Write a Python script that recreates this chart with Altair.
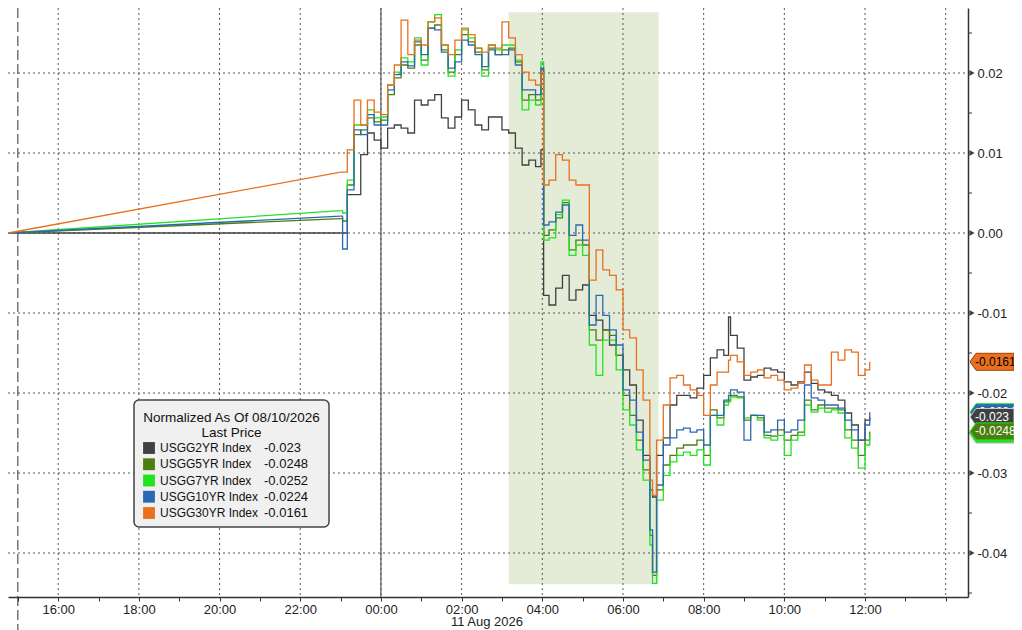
import altair as alt
import pandas as pd

# ---------------- data ----------------
TIMES = [
    "2026-08-10T14:40", "2026-08-10T14:46", "2026-08-10T23:00", "2026-08-10T23:03",
    "2026-08-10T23:10", "2026-08-10T23:20", "2026-08-10T23:30", "2026-08-10T23:40",
    "2026-08-10T23:50", "2026-08-11T00:00",
    "2026-08-11T00:10", "2026-08-11T00:20", "2026-08-11T00:30", "2026-08-11T00:40",
    "2026-08-11T00:50", "2026-08-11T01:00", "2026-08-11T01:10", "2026-08-11T01:20",
    "2026-08-11T01:30", "2026-08-11T01:40",
    "2026-08-11T01:50", "2026-08-11T02:00", "2026-08-11T02:10", "2026-08-11T02:20",
    "2026-08-11T02:30", "2026-08-11T02:40", "2026-08-11T02:50", "2026-08-11T03:00",
    "2026-08-11T03:10", "2026-08-11T03:20",
    "2026-08-11T03:30", "2026-08-11T03:40", "2026-08-11T03:50", "2026-08-11T03:58",
    "2026-08-11T04:02", "2026-08-11T04:10", "2026-08-11T04:20", "2026-08-11T04:30",
    "2026-08-11T04:40", "2026-08-11T04:50",
    "2026-08-11T05:00", "2026-08-11T05:10", "2026-08-11T05:20", "2026-08-11T05:30",
    "2026-08-11T05:40", "2026-08-11T05:50", "2026-08-11T06:00", "2026-08-11T06:10",
    "2026-08-11T06:20", "2026-08-11T06:30",
    "2026-08-11T06:40", "2026-08-11T06:44", "2026-08-11T06:50", "2026-08-11T07:00",
    "2026-08-11T07:10", "2026-08-11T07:20", "2026-08-11T07:30", "2026-08-11T07:40",
    "2026-08-11T07:50", "2026-08-11T08:00",
    "2026-08-11T08:10", "2026-08-11T08:20", "2026-08-11T08:30", "2026-08-11T08:37",
    "2026-08-11T08:40", "2026-08-11T08:50", "2026-08-11T09:00", "2026-08-11T09:10",
    "2026-08-11T09:20", "2026-08-11T09:30",
    "2026-08-11T09:40", "2026-08-11T09:50", "2026-08-11T10:00", "2026-08-11T10:10",
    "2026-08-11T10:20", "2026-08-11T10:30", "2026-08-11T10:40", "2026-08-11T10:50",
    "2026-08-11T11:00", "2026-08-11T11:10",
    "2026-08-11T11:20", "2026-08-11T11:30", "2026-08-11T11:40", "2026-08-11T11:50",
    "2026-08-11T12:00", "2026-08-11T12:07",
]

USGG2YR = [
    0, 0, 0, 0, 0.0048, 0.0048, 0.0098, 0.0125, 0.0116, 0.0106,
    0.0131, 0.0135, 0.0131, 0.0125, 0.0166, 0.0160, 0.0166, 0.0173, 0.0144, 0.0131,
    0.0145, 0.0166, 0.0154, 0.0135, 0.0129, 0.0145, 0.0145, 0.0129, 0.0125, 0.0106,
    0.0085, 0.0091, 0.0083, 0.0104, -0.0078, -0.0090, -0.0069, -0.0053, -0.0084, -0.0071,
    -0.0065, -0.0103, -0.0109, -0.0121, -0.0140, -0.0153, -0.0171, -0.0190, -0.0234, -0.0278,
    -0.0321, -0.0330, -0.0278, -0.0256, -0.0215, -0.0203, -0.0203, -0.0206, -0.0194, -0.0178,
    -0.0156, -0.0146, -0.0153, -0.0105, -0.0128, -0.0144, -0.0184, -0.0180, -0.0178, -0.0169,
    -0.0171, -0.0174, -0.0186, -0.0190, -0.0186, -0.0174, -0.0188, -0.0196, -0.0199, -0.0203,
    -0.0209, -0.0225, -0.0240, -0.0259, -0.0234, -0.023,
]
USGG5YR = [
    0, 0, 0.0018, 0.0015, 0.0060, 0.0123, 0.0129, 0.0144, 0.0139, 0.0141,
    0.0173, 0.0194, 0.0210, 0.0206, 0.0235, 0.0216, 0.0256, 0.0260, 0.0229, 0.0201,
    0.0223, 0.0248, 0.0239, 0.0226, 0.0204, 0.0231, 0.0223, 0.0229, 0.0231, 0.0214,
    0.0166, 0.0173, 0.0166, 0.0204, -0.0003, 0.0004, 0.0019, 0.0038, -0.0021, -0.0009,
    -0.0015, -0.0121, -0.0134, -0.0121, -0.0128, -0.0153, -0.0203, -0.0228, -0.0259, -0.0296,
    -0.0378, -0.0428, -0.0321, -0.0290, -0.0278, -0.0269, -0.0265, -0.0265, -0.0259, -0.0278,
    -0.0221, -0.0231, -0.0211, -0.0209, -0.0203, -0.0205, -0.0234, -0.0228, -0.0231, -0.0253,
    -0.0254, -0.0246, -0.0259, -0.0253, -0.0249, -0.0209, -0.0221, -0.0215, -0.0219, -0.0219,
    -0.0221, -0.0246, -0.0259, -0.0278, -0.0259, -0.0248,
]
USGG7YR = [
    0, 0, 0.0028, 0.0025, 0.0066, 0.0135, 0.0135, 0.0154, 0.0144, 0.0145,
    0.0185, 0.0201, 0.0219, 0.0214, 0.0244, 0.0210, 0.0264, 0.0273, 0.0235, 0.0196,
    0.0229, 0.0254, 0.0244, 0.0231, 0.0196, 0.0235, 0.0229, 0.0235, 0.0235, 0.0216,
    0.0154, 0.0166, 0.0160, 0.0214, -0.0009, -0.0006, 0.0023, 0.0041, -0.0028, -0.0015,
    -0.0028, -0.0140, -0.0178, -0.0134, -0.0134, -0.0171, -0.0221, -0.0240, -0.0271, -0.0309,
    -0.0390, -0.0438, -0.0334, -0.0303, -0.0286, -0.0278, -0.0274, -0.0278, -0.0271, -0.0290,
    -0.0228, -0.0240, -0.0215, -0.0211, -0.0205, -0.0206, -0.0231, -0.0228, -0.0234, -0.0256,
    -0.0259, -0.0253, -0.0278, -0.0259, -0.0253, -0.0215, -0.0224, -0.0219, -0.0224, -0.0221,
    -0.0225, -0.0256, -0.0269, -0.0294, -0.0265, -0.0252,
]
USGG10YR = [
    0, 0, 0.0021, -0.0020, 0.0054, 0.0129, 0.0123, 0.0148, 0.0135, 0.0135,
    0.0179, 0.0198, 0.0214, 0.0209, 0.0239, 0.0223, 0.0256, 0.0254, 0.0226, 0.0206,
    0.0214, 0.0241, 0.0235, 0.0223, 0.0208, 0.0229, 0.0223, 0.0223, 0.0229, 0.0210,
    0.0179, 0.0179, 0.0173, 0.0206, 0.0010, 0.0014, 0.0026, 0.0035, -0.0003, 0.0010,
    -0.0009, -0.0115, -0.0078, -0.0103, -0.0121, -0.0140, -0.0196, -0.0209, -0.0249, -0.0284,
    -0.0371, -0.0424, -0.0315, -0.0265, -0.0256, -0.0246, -0.0244, -0.0249, -0.0246, -0.0265,
    -0.0228, -0.0228, -0.0209, -0.0203, -0.0196, -0.0199, -0.0259, -0.0228, -0.0228, -0.0249,
    -0.0246, -0.0234, -0.0249, -0.0246, -0.0234, -0.0190, -0.0206, -0.0209, -0.0215, -0.0215,
    -0.0219, -0.0234, -0.0246, -0.0259, -0.0240, -0.0224,
]
USGG30YR = [
    0, 0, 0.0076, 0.0076, 0.0104, 0.0166, 0.0135, 0.0166, 0.0151, 0.0148,
    0.0185, 0.0210, 0.0266, 0.0223, 0.0241, 0.0235, 0.0264, 0.0269, 0.0235, 0.0223,
    0.0241, 0.0256, 0.0248, 0.0231, 0.0226, 0.0235, 0.0231, 0.0264, 0.0244, 0.0223,
    0.0201, 0.0191, 0.0185, 0.0201, 0.0060, 0.0066, 0.0098, 0.0091, 0.0066, 0.0060,
    0.0060, -0.0059, -0.0021, -0.0046, -0.0053, -0.0071, -0.0121, -0.0131, -0.0171, -0.0209,
    -0.0309, -0.0328, -0.0259, -0.0215, -0.0181, -0.0178, -0.0190, -0.0196, -0.0203, -0.0228,
    -0.0190, -0.0174, -0.0174, -0.0159, -0.0153, -0.0161, -0.0178, -0.0174, -0.0171, -0.0181,
    -0.0178, -0.0184, -0.0196, -0.0194, -0.0188, -0.0165, -0.0184, -0.0190, -0.0190, -0.0149,
    -0.0159, -0.0146, -0.0149, -0.0178, -0.0171, -0.0161,
]

NAMES = ["USGG2YR Index", "USGG5YR Index", "USGG7YR Index", "USGG10YR Index", "USGG30YR Index"]
COLORS = ["#404040", "#4c7e10", "#22e322", "#2b68b3", "#e8701e"]
SERIES = [USGG2YR, USGG5YR, USGG7YR, USGG10YR, USGG30YR]

Y_TICKS = [-0.04, -0.03, -0.02, -0.01, 0.0, 0.01, 0.02]
Y_MINOR = [-0.045, -0.035, -0.025, -0.015, -0.005, 0.005, 0.015, 0.025]
X_GRID = ["2026-08-10T16:00", "2026-08-10T18:00", "2026-08-10T20:00", "2026-08-10T22:00",
          "2026-08-11T00:00", "2026-08-11T02:00", "2026-08-11T04:00", "2026-08-11T06:00",
          "2026-08-11T08:00", "2026-08-11T10:00", "2026-08-11T12:00", "2026-08-11T14:00"]
DAY_LINE = ["2026-08-11T00:00"]
SESSION_LINE = ["2026-08-10T15:00"]
SHADE_START, SHADE_END = "2026-08-11T03:10", "2026-08-11T06:53"
SHADE_TOP, SHADE_BOTTOM = 0.0276, -0.0439
DATE_LABEL = "11 Aug 2026"
LEGEND_TITLE = ["Normalized As Of 08/10/2026", "Last Price"]

FONT = "Liberation Sans"
W, H = 960, 589
GAP_END = 3  # first points are joined straight across the overnight gap

# ---------------- scales / axes ----------------
hour_ticks = [alt.DateTime(year=d.year, month=d.month, date=d.day, hours=d.hour)
              for d in pd.date_range("2026-08-10 15:00", "2026-08-11 14:00", freq="h")]
XSCALE = alt.Scale(domain=[alt.DateTime(year=2026, month=8, date=10, hours=14, minutes=45, seconds=21),
                           alt.DateTime(year=2026, month=8, date=11, hours=14, minutes=33, seconds=10)])
YSCALE = alt.Scale(domain=[-0.0455, 0.028125], zero=False, nice=False)
XAX = alt.Axis(values=hour_ticks, grid=False, title=None, tickSize=4, tickColor="#333",
               domainColor="#333", domainWidth=1.5, labelFont=FONT, labelFontSize=13,
               labelColor="#222", labelPadding=2, labelFlush=False, labelOverlap=False,
               labelExpr="(hours(datum.value) % 2 == 0 && hours(datum.value) != 14) ? timeFormat(datum.value, '%H:%M') : ''")
YAX = alt.Axis(orient="right", values=Y_TICKS, grid=False, title=None, ticks=False, tickSize=0,
               domainColor="#333", domainWidth=1.5, labelFont=FONT, labelFontSize=13,
               labelColor="#222", labelPadding=9,
               labelExpr="replace(format(datum.value, '.2f'), '\u2212', '-')")


def X(f):
    return alt.X(f, type="temporal", scale=XSCALE, axis=XAX)


def Y(f):
    return alt.Y(f, type="quantitative", scale=YSCALE, axis=YAX)


one = pd.DataFrame({"a": [0]})
layers = []

# shaded window
shade_df = pd.DataFrame({"s": [SHADE_START], "e": [SHADE_END], "top": [SHADE_TOP], "bot": [SHADE_BOTTOM]})
layers.append(alt.Chart(shade_df).mark_rect(color="#e4ebd7").encode(
    x=X("s"), x2="e", y=Y("top"), y2="bot"))

# gridlines
layers.append(alt.Chart(pd.DataFrame({"v": Y_TICKS})).mark_rule(
    color="#555", strokeDash=[2, 3], strokeWidth=1).encode(
    y=Y("v"), x=alt.value(0), x2=alt.value(W)))
layers.append(alt.Chart(pd.DataFrame({"t": X_GRID})).mark_rule(
    color="#555", strokeDash=[2, 3], strokeWidth=1).encode(
    x=X("t"), y=alt.value(0), y2=alt.value(H)))

# day boundary and session marker
layers.append(alt.Chart(pd.DataFrame({"t": DAY_LINE})).mark_rule(
    color="#555", strokeWidth=1.2).encode(x=X("t"), y=alt.value(0), y2=alt.value(H)))
layers.append(alt.Chart(pd.DataFrame({"t": SESSION_LINE})).mark_rule(
    color="#333", strokeWidth=1, strokeDash=[10, 4]).encode(x=X("t"), y=alt.value(0), y2=alt.value(H + 34)))

# right-axis markers
layers.append(alt.Chart(pd.DataFrame({"v": Y_MINOR})).mark_rule(color="#333", strokeWidth=1).encode(
    y=Y("v"), x=alt.value(W), x2=alt.value(W + 4)))
layers.append(alt.Chart(pd.DataFrame({"v": Y_TICKS})).mark_point(
    shape="triangle-right", filled=True, size=38, color="#444", opacity=1).encode(
    y=Y("v"), x=alt.value(W + 4)))

# series lines: straight bridge across the overnight gap, stepped intraday ticks after it
for name, col, vals in zip(NAMES, COLORS, SERIES):
    gap = pd.DataFrame({"t": TIMES[:GAP_END], "v": vals[:GAP_END]})
    live = pd.DataFrame({"t": TIMES[GAP_END - 1:], "v": vals[GAP_END - 1:]})
    layers.append(alt.Chart(gap).mark_line(color=col, strokeWidth=1.3, clip=True).encode(
        x=X("t"), y=Y("v")))
    layers.append(alt.Chart(live).mark_line(color=col, strokeWidth=1.3, clip=True,
                                            interpolate="step-after").encode(
        x=X("t"), y=Y("v")))

# legend box
BX0, BX1, BY0, BY1 = 126, 321, 392, 519
layers.append(alt.Chart(one).mark_rect(fill="#f0f0f0", stroke="#444", strokeWidth=1.5, cornerRadius=5).encode(
    x=alt.value(BX0), x2=alt.value(BX1), y=alt.value(BY0), y2=alt.value(BY1)))
for i, txt in enumerate(LEGEND_TITLE):
    layers.append(alt.Chart(one).mark_text(text=txt, font=FONT, fontSize=13.5, color="#111",
                                           align="center", baseline="middle").encode(
        x=alt.value((BX0 + BX1) / 2), y=alt.value(410 + 15 * i)))
for i, (name, col, vals) in enumerate(zip(NAMES, COLORS, SERIES)):
    yy = 440 + 16.25 * i
    layers.append(alt.Chart(one).mark_point(shape="square", filled=True, size=140, color=col, opacity=1).encode(
        x=alt.value(141), y=alt.value(yy)))
    layers.append(alt.Chart(one).mark_text(text=name, font=FONT, fontSize=12, color="#111",
                                           align="left", baseline="middle").encode(
        x=alt.value(152), y=alt.value(yy)))
    layers.append(alt.Chart(one).mark_text(text=str(vals[-1]), font=FONT, fontSize=13, color="#111",
                                           align="left", baseline="middle").encode(
        x=alt.value(256), y=alt.value(yy)))

# last value tags on the right
TAG_PATH = "M-1,0L-0.727,-0.386L1,-0.386L1,0.386L-0.727,0.386Z"
tag_order = [3, 2, 0, 1, 4]
TAG_TEXT = ["white", "white", "white", "white", "black"]
TAG_STROKE = ["#cccccc", "#22e322", "#bbbbbb", "#22e322", "#a04000"]
tags = pd.DataFrame({
    "v": [SERIES[i][-1] for i in tag_order],
    "label": [str(SERIES[i][-1]) for i in tag_order],
    "fill": [COLORS[i] for i in tag_order],
    "tc": [TAG_TEXT[i] for i in tag_order],
    "sc": [TAG_STROKE[i] for i in tag_order],
})
for k in range(5):
    row = tags.iloc[[k]]
    layers.append(alt.Chart(row).mark_point(shape=TAG_PATH, filled=True, size=1936, opacity=1,
                                            strokeWidth=1).encode(
        y=Y("v"), x=alt.value(984),
        color=alt.Color("fill:N", scale=None), stroke=alt.Color("sc:N", scale=None)))
    layers.append(alt.Chart(row).mark_text(font=FONT, fontSize=12, align="left", baseline="middle").encode(
        y=Y("v"), x=alt.value(967), text="label:N", color=alt.Color("tc:N", scale=None)))

# date label under the time axis
layers.append(alt.Chart(one).mark_text(text=DATE_LABEL, font=FONT, fontSize=13, color="#222",
                                       align="center", baseline="middle").encode(
    x=alt.value(479), y=alt.value(614)))

chart = alt.layer(*layers).properties(
    width=W, height=H,
    autosize=alt.AutoSizeParams(type="none"),
    padding={"left": 0, "top": 0, "right": 46, "bottom": 33},
    background="white",
).configure_view(strokeWidth=0)

chart.save("out.html", embed_options={"renderer": "svg", "actions": False})
